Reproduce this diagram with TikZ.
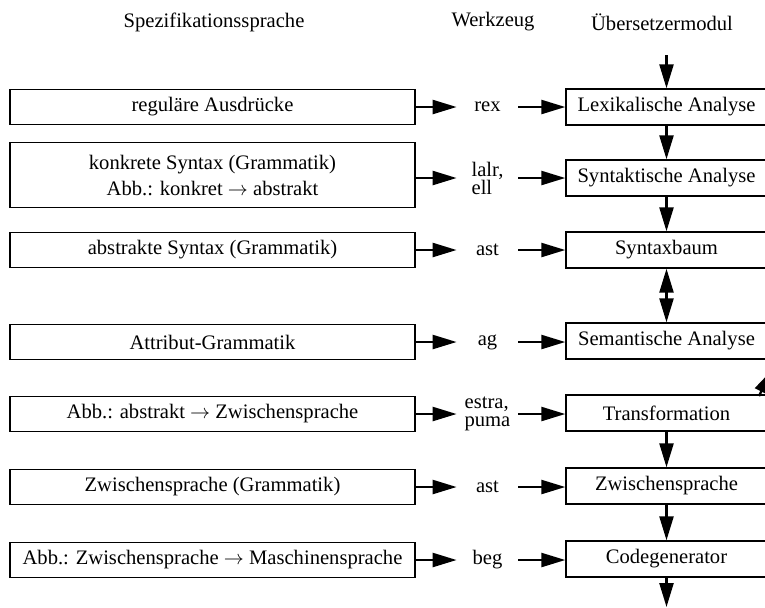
\documentclass[tikz,border=0pt]{standalone}
\usepackage{fontspec}
\setmainfont{Liberation Serif}
\usepackage{tikz}
\usetikzlibrary{arrows.meta}

\begin{document}
\begin{tikzpicture}[x=0.5pt, y=-0.5pt,
  every node/.style={font=\fontsize{10.3pt}{13pt}\selectfont},
  spec/.style={draw, line width=0.7pt, minimum width=202.5pt, minimum height=17.5pt, inner sep=2pt, align=center},
  modul/.style={draw, line width=0.7pt, minimum width=100.5pt, minimum height=18pt, inner sep=2pt},
  tool/.style={minimum width=30.5pt, inner sep=0pt, align=left, font=\fontsize{10.3pt}{9pt}\selectfont},
  flow/.style={-{Triangle[length=12pt,width=7pt]}, line width=1.2pt},
  flowboth/.style={{Triangle[length=12pt,width=7pt]}-{Triangle[length=12pt,width=7pt]}, line width=1.2pt}]
\path[use as bounding box, clip] (0,0) rectangle (765,607);
% column heads
\node (hspec) at (214,22) {Spezifikationssprache};
\node (htool) at (493,22) {Werkzeug};
\node (hmod) at (662,22) {Übersetzermodul};
% specification languages
\node[spec] (spec1) at (212.5,107) {reguläre Ausdrücke};
\node[spec, minimum height=32.5pt] (spec2) at (212.5,175) {konkrete Syntax (Grammatik)\\Abb.: konkret $\rightarrow$ abstrakt};
\node[spec] (spec3) at (212.5,250) {abstrakte Syntax (Grammatik)};
\node[spec] (spec4) at (212.5,342) {Attribut-Grammatik};
\node[spec] (spec5) at (212.5,414) {Abb.: abstrakt $\rightarrow$ Zwischensprache};
\node[spec] (spec6) at (212.5,487) {Zwischensprache (Grammatik)};
\node[spec] (spec7) at (212.5,560) {Abb.: Zwischensprache $\rightarrow$ Maschinensprache};
% tools
\node[tool] (tool1) at (487.5,107) {rex};
\node[tool] (tool2) at (487.5,178) {lalr,\\ell};
\node[tool] (tool3) at (487.5,250) {ast};
\node[tool] (tool4) at (487.5,342) {ag};
\node[tool] (tool5) at (487.5,414) {estra,\\puma};
\node[tool] (tool6) at (487.5,487) {ast};
\node[tool] (tool7) at (487.5,560) {beg};
% compiler modules
\node[modul] (mod1) at (666.5,107) {Lexikalische Analyse};
\node[modul] (mod2) at (666.5,178) {Syntaktische Analyse};
\node[modul] (mod3) at (666.5,250) {Syntaxbaum};
\node[modul] (mod4) at (666.5,341) {Semantische Analyse};
\node[modul] (mod5) at (666.5,413) {Transformation};
\node[modul] (mod6) at (666.5,486) {Zwischensprache};
\node[modul] (mod7) at (666.5,559) {Codegenerator};
\foreach \i in {1,...,7} {
  \draw[flow] (spec\i.east |- tool\i.west) -- (tool\i.west);
  \draw[flow] (tool\i.east) -- (mod\i.west |- tool\i.east);
}
% module chain
\coordinate (in) at (666.5,55);
\coordinate (out) at (666.5,607);
\draw[flow] (in) -- (mod1);
\draw[flow] (mod1) -- (mod2);
\draw[flow] (mod2) -- (mod3);
\draw[flowboth] (mod3) -- (mod4);
\draw[flow] (mod5) -- (mod6);
\draw[flow] (mod6) -- (mod7);
\draw[flow] (mod7) -- (out);
% back arrow, cut off at the border
\coordinate (back) at (772,370);
\draw[flow] (759,396) -- (back);
\end{tikzpicture}
\end{document}
